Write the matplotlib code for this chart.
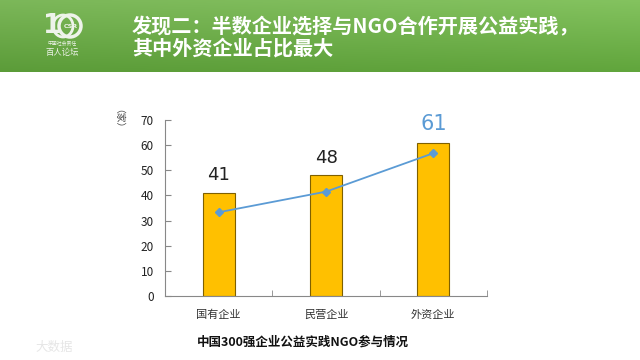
import matplotlib
matplotlib.use("Agg")
import matplotlib.pyplot as plt
import numpy as np
from matplotlib.patches import Ellipse

plt.rcParams['font.family'] = ['Noto Sans CJK SC', 'DejaVu Sans']

categories = ['国有企业', '民营企业', '外资企业']
counts = [41, 48, 61]
line_values = [33.3, 41.5, 56.8]
yticks = [0, 10, 20, 30, 40, 50, 60, 70]
title_lines = ['发现二：半数企业选择与NGO合作开展公益实践，', '其中外资企业占比最大']
caption = '中国300强企业公益实践NGO参与情况'
unit_label = '（家）'

fig = plt.figure(figsize=(6.4, 3.6), dpi=100)

# header banner
bax = fig.add_axes([0, 1 - 72 / 360, 1, 72 / 360])
grad = np.linspace(0, 1, 256)
xx, yy = np.meshgrid(grad, np.linspace(0, 1, 40))
top = np.array([0.50, 0.74, 0.36])
bot = np.array([0.37, 0.63, 0.23])
img = (bot[None, None, :] * (1 - yy[..., None]) + top[None, None, :] * yy[..., None])
img = img * (0.97 + 0.06 * xx[..., None])
bax.imshow(np.clip(img, 0, 1), aspect='auto', extent=[0, 1, 0, 1], origin='lower')
bax.set_xlim(0, 1)
bax.set_ylim(0, 1)
bax.axis('off')
fig.text(132 / 640, 1 - 27 / 360, title_lines[0], color='white', fontsize=14.5,
         fontweight='bold', va='center', ha='left')
fig.text(132 / 640, 1 - 48 / 360, title_lines[1], color='white', fontsize=14.5,
         fontweight='bold', va='center', ha='left')
# logo approximation
logo_c = '#eef3ea'
fig.text(52 / 640, 1 - 26 / 360, '1', color=logo_c, fontsize=19, fontweight='bold',
         va='center', ha='center', family=['DejaVu Sans'])
bax.add_patch(Ellipse((70 / 640, 1 - 26 / 72), 22 / 640, 22 / 72, transform=bax.transAxes,
                      fill=False, ec=logo_c, lw=2.5))
bax.add_patch(Ellipse((63 / 640, 1 - 26 / 72), 20 / 640, 22 / 72, transform=bax.transAxes,
                      fill=False, ec=logo_c, lw=2.0))
fig.text(71 / 640, 1 - 26 / 360, 'CSR', color=logo_c, fontsize=4.5, fontweight='bold',
         va='center', ha='center', family=['DejaVu Sans'])
fig.text(62 / 640, 1 - 44 / 360, '中国社会责任', color=logo_c, fontsize=3.5,
         va='center', ha='center')
fig.text(62 / 640, 1 - 52 / 360, '百人论坛', color=logo_c, fontsize=6,
         va='center', ha='center')

# main chart
ax = fig.add_axes([165 / 640, 1 - 296 / 360, 322 / 640, 176 / 360])
x = np.arange(len(categories))
ax.bar(x, counts, width=0.3, color='#FFC000', edgecolor='#7F6000', linewidth=0.8, zorder=2)
ax.plot(x, line_values, color='#5B9BD5', lw=1.3, marker='D', markersize=4, zorder=3)
label_colors = ['#222222', '#222222', '#5B9BD5']
label_sizes = [13, 13, 15]
for xi, v, c, s in zip(x, counts, label_colors, label_sizes):
    ax.text(xi, v + 3.5, str(v), ha='center', va='bottom', color=c, fontsize=s,
            family=['DejaVu Sans'])
ax.set_xlim(-0.5, 2.5)
ax.set_ylim(0, 70)
ax.set_yticks(yticks)
ax.set_xticks(x)
ax.set_xticklabels(categories, fontsize=8, color='#333333')
ax.set_xticks([0.5, 1.5, 2.5], minor=True)
ax.tick_params(axis='x', which='major', length=0, pad=10)
ax.tick_params(axis='x', which='minor', direction='in', length=4, color='#888888')
ax.tick_params(axis='y', direction='in', length=4, color='#888888', labelsize=8.5,
               labelcolor='#222222', pad=8)
for sp in ['top', 'right']:
    ax.spines[sp].set_visible(False)
for sp in ['left', 'bottom']:
    ax.spines[sp].set_color('#888888')
    ax.spines[sp].set_linewidth(0.8)

fig.text(113 / 640, 1 - 124 / 360, unit_label, rotation=270, fontsize=7, color='#444444',
         ha='center', va='center')

fig.text(197 / 640, 1 - 342 / 360, caption, fontsize=9, fontweight='bold', color='#111111',
         ha='left', va='center')

fig.text(35 / 640, 1 - 347 / 360, '大数据', fontsize=9, color='#e6e6e6',
         ha='left', va='center')

fig.savefig('out.png', dpi=100)
